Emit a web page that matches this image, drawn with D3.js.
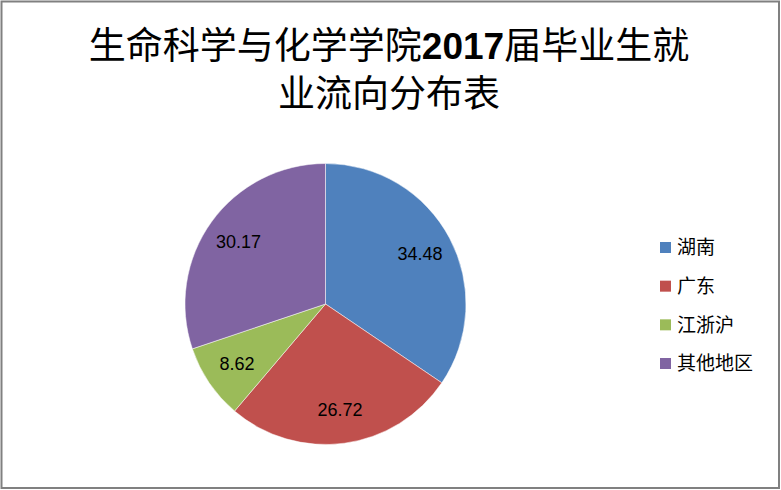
<!DOCTYPE html>
<html><head><meta charset="utf-8">
<script src="https://cdn.jsdelivr.net/npm/d3@7/dist/d3.min.js"></script>
<style>body{margin:0;background:#fff}svg{display:block}</style>
</head><body>
<svg id="c" width="781" height="490"></svg>
<script>
const categories = ["湖南", "广东", "江浙沪", "其他地区"];
const values = [34.48, 26.72, 8.62, 30.17];
const colors = ["#4F81BD", "#C0504D", "#9BBB59", "#8064A2"];
const titleLines = ["生命科学与化学学院", "2017", "届毕业生就", "业流向分布表"];

const svg = d3.select("#c");
svg.append("rect").attr("x", 1.5).attr("y", 1.5).attr("width", 777.5).attr("height", 486.5)
  .attr("fill", "#fff").attr("stroke", "#808080").attr("stroke-width", 2);

const cjk = "'Noto Sans CJK SC', sans-serif";
const t1 = svg.append("text").attr("x", 389).attr("y", 59).attr("text-anchor", "middle")
  .attr("font-size", 37).attr("fill", "#000").style("font-family", cjk);
t1.append("tspan").text(titleLines[0]);
t1.append("tspan").text(titleLines[1]).attr("font-weight", "bold").style("font-family", "'Liberation Sans', sans-serif");
t1.append("tspan").text(titleLines[2]);
svg.append("text").attr("x", 389).attr("y", 107).attr("text-anchor", "middle")
  .attr("font-size", 37).attr("fill", "#000").style("font-family", cjk).text(titleLines[3]);

const cx = 325.5, cy = 304, r = 140.5;
const pie = d3.pie().sort(null).value(d => d)(values);
const arc = d3.arc().innerRadius(0).outerRadius(r);
const labelArc = d3.arc().innerRadius(107).outerRadius(107);
const g = svg.append("g").attr("transform", `translate(${cx},${cy})`);
g.selectAll("path").data(pie).join("path").attr("d", arc)
  .attr("fill", (d, i) => colors[i]).attr("stroke", "#fff").attr("stroke-width", 0.5);
g.selectAll("text").data(pie).join("text")
  .attr("transform", d => `translate(${labelArc.centroid(d)})`)
  .attr("text-anchor", "middle").attr("dy", "0.35em")
  .attr("font-size", 18).style("font-family", "'Liberation Sans', sans-serif").attr("fill", "#000")
  .text(d => d.data.toFixed(2));

const leg = svg.append("g");
const ly = d3.scalePoint().domain(categories).range([247.5, 363.5]);
categories.forEach((c, i) => {
  leg.append("rect").attr("x", 660).attr("y", ly(c) - 5.5).attr("width", 11).attr("height", 11).attr("fill", colors[i]);
  leg.append("text").attr("x", 677).attr("y", ly(c)).attr("dy", "0.36em")
    .attr("font-size", 19).style("font-family", cjk).attr("fill", "#000").text(c);
});
</script>
</body></html>
